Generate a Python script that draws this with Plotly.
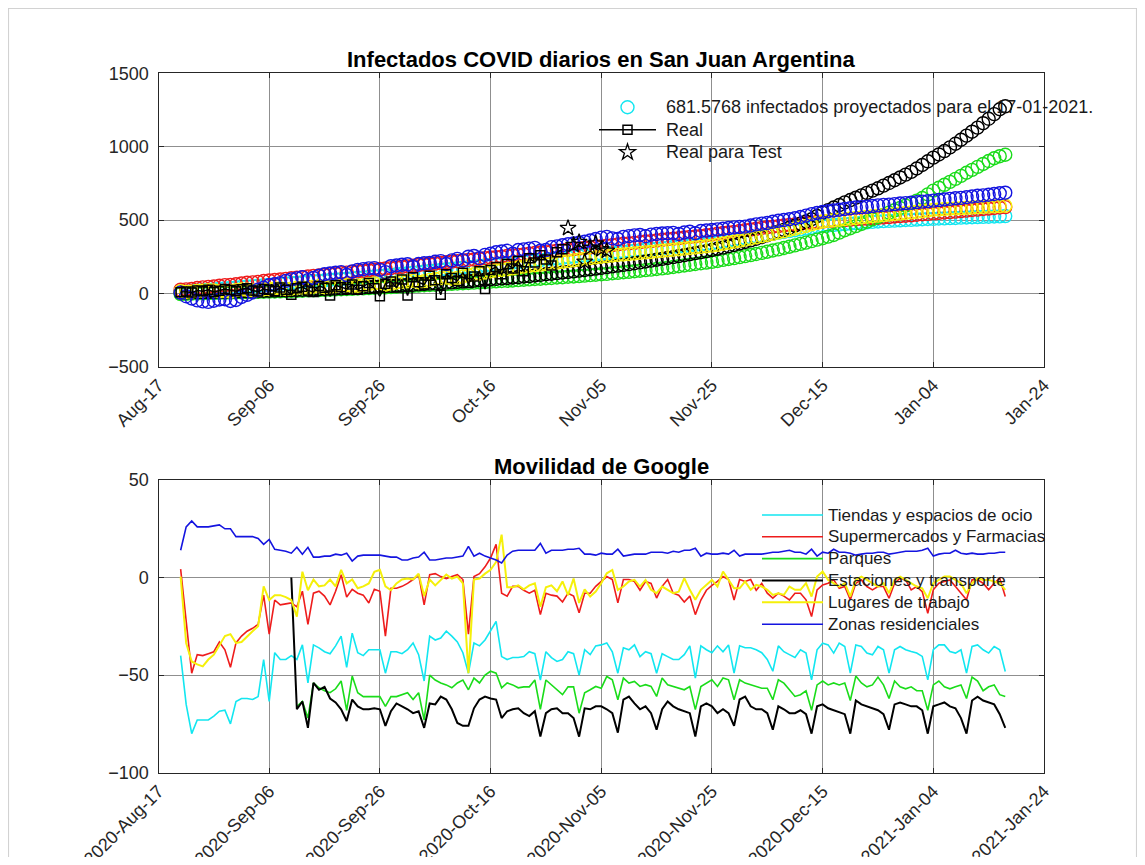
import pandas as pd
import plotly.graph_objects as go

# ---------------- DATA ----------------
tick_dates = ["2020-08-17", "2020-09-06", "2020-09-26", "2020-10-16", "2020-11-05",
              "2020-11-25", "2020-12-15", "2021-01-04", "2021-01-24"]
top_tick_labels = ["Aug-17", "Sep-06", "Sep-26", "Oct-16", "Nov-05",
                   "Nov-25", "Dec-15", "Jan-04", "Jan-24"]
bottom_tick_labels = ["2020-Aug-17", "2020-Sep-06", "2020-Sep-26", "2020-Oct-16", "2020-Nov-05",
                      "2020-Nov-25", "2020-Dec-15", "2021-Jan-04", "2021-Jan-24"]

# projected infections (model fits), daily from 2020-08-21 to 2021-01-17
fit_cyan = [10, 13, 16, 20, 23, 25, 28, 32, 35, 37,
            40, 44, 47, 49, 52, 56, 59, 61, 64, 68,
            71, 73, 76, 80, 83, 85, 88, 92, 95, 97,
            100, 104, 107, 109, 112, 116, 119, 122, 126, 130,
            134, 137, 141, 145, 149, 152, 156, 160, 164, 167,
            171, 175, 179, 182, 186, 190, 194, 197, 201, 205,
            209, 212, 216, 220, 224, 227, 231, 235, 239, 242,
            246, 250, 254, 258, 262, 266, 270, 273, 277, 280,
            284, 288, 291, 294, 298, 302, 305, 308, 312, 316,
            319, 322, 326, 330, 333, 336, 340, 346, 352, 358,
            364, 370, 376, 382, 388, 394, 400, 406, 412, 418,
            424, 430, 436, 442, 448, 454, 460, 463, 466, 469,
            472, 475, 478, 481, 484, 487, 490, 492, 494, 496,
            498, 500, 501, 503, 505, 507, 508, 510, 511, 513,
            514, 516, 517, 519, 520, 521, 522, 524, 525, 527]
fit_red = [25, 27, 30, 36, 41, 44, 47, 52, 56, 58,
           62, 67, 72, 75, 78, 84, 88, 91, 94, 99,
           103, 106, 110, 115, 119, 122, 125, 130, 135, 138,
           141, 146, 150, 153, 156, 161, 166, 169, 172, 177,
           181, 184, 188, 193, 197, 200, 203, 208, 213, 216,
           219, 224, 228, 231, 235, 240, 244, 247, 250, 255,
           259, 262, 266, 271, 275, 278, 281, 286, 291, 294,
           297, 302, 306, 309, 313, 318, 322, 325, 329, 334,
           338, 341, 344, 349, 353, 356, 360, 365, 369, 372,
           376, 381, 385, 388, 391, 396, 400, 406, 411, 415,
           419, 425, 431, 435, 440, 446, 451, 454, 458, 463,
           467, 470, 474, 478, 482, 486, 489, 492, 495, 497,
           499, 502, 505, 507, 509, 512, 515, 517, 520, 524,
           527, 529, 532, 536, 539, 542, 545, 548, 551, 554,
           557, 561, 564, 568, 571, 575, 578, 582, 585, 588]
fit_green = [-5, -3, -2, -1, 0, 1, 2, 3, 4, 5,
             6, 7, 8, 9, 10, 11, 12, 13, 14, 15,
             16, 17, 18, 20, 21, 22, 24, 25, 27, 28,
             30, 31, 33, 34, 36, 38, 40, 41, 43, 45,
             47, 49, 51, 53, 55, 57, 59, 61, 63, 65,
             67, 69, 71, 73, 75, 77, 80, 82, 84, 86,
             88, 90, 93, 95, 98, 100, 103, 105, 108, 110,
             113, 115, 118, 121, 124, 127, 130, 133, 137, 140,
             144, 147, 151, 154, 158, 162, 166, 170, 175, 180,
             185, 190, 195, 200, 205, 210, 215, 221, 228, 234,
             240, 247, 254, 261, 268, 276, 284, 292, 300, 309,
             318, 327, 337, 346, 356, 366, 376, 387, 398, 414,
             430, 444, 458, 473, 488, 504, 520, 535, 550, 566,
             582, 598, 615, 632, 650, 675, 700, 720, 740, 760,
             780, 801, 822, 842, 862, 882, 902, 921, 935, 945]
fit_black = [5, 5, 6, 7, 8, 8, 9, 9, 10, 11,
             12, 13, 14, 15, 16, 17, 18, 19, 20, 21,
             22, 23, 24, 25, 27, 28, 30, 31, 33, 34,
             36, 38, 40, 41, 43, 45, 47, 49, 51, 53,
             55, 57, 59, 61, 64, 66, 68, 70, 73, 75,
             78, 81, 84, 87, 90, 93, 96, 99, 102, 105,
             108, 111, 115, 118, 122, 126, 130, 134, 138, 142,
             146, 150, 155, 159, 164, 169, 174, 179, 184, 189,
             194, 199, 205, 211, 217, 223, 229, 235, 241, 247,
             254, 260, 267, 274, 281, 288, 296, 304, 312, 321,
             330, 340, 350, 361, 372, 384, 396, 408, 420, 433,
             447, 461, 475, 490, 505, 527, 550, 567, 585, 602,
             620, 636, 652, 668, 685, 700, 716, 734, 752, 771,
             790, 809, 828, 851, 875, 900, 925, 947, 970, 995,
             1020, 1047, 1075, 1102, 1130, 1160, 1190, 1222, 1255, 1275]
fit_yellow = [15, 10, 12, 16, 18, 22, 20, 14, 16, 12,
              22, 26, 25, 20, 22, 28, 30, 34, 35, 30,
              32, 38, 40, 36, 45, 48, 42, 46, 50, 56,
              55, 50, 52, 58, 62, 68, 70, 60, 66, 74,
              78, 82, 85, 76, 82, 92, 98, 104, 108, 100,
              105, 115, 122, 130, 135, 142, 150, 156, 160, 165,
              170, 176, 182, 188, 192, 196, 200, 205, 210, 215,
              220, 225, 230, 235, 240, 245, 250, 254, 258, 262,
              265, 268, 272, 276, 279, 282, 286, 290, 293, 297,
              301, 305, 309, 313, 317, 321, 325, 331, 338, 345,
              352, 359, 366, 374, 382, 390, 398, 406, 415, 423,
              432, 441, 450, 460, 470, 480, 490, 494, 498, 502,
              506, 510, 514, 518, 522, 526, 530, 533, 537, 540,
              544, 548, 552, 556, 560, 565, 570, 572, 575, 577,
              579, 581, 583, 585, 587, 589, 591, 593, 595, 597]
fit_blue = [5, -20, -35, -48, -55, -58, -50, -42, -40, -52,
            -45, -25, -10, 8, 25, 38, 55, 62, 70, 85,
            95, 102, 110, 90, 105, 120, 130, 135, 140, 145,
            125, 150, 160, 165, 170, 172, 160, 145, 185, 190,
            195, 198, 180, 200, 205, 208, 215, 220, 200, 225,
            235, 225, 250, 255, 240, 262, 270, 280, 285, 290,
            270, 295, 300, 305, 310, 290, 295, 315, 320, 328,
            335, 340, 345, 352, 360, 370, 380, 385, 375, 370,
            385, 390, 395, 398, 390, 400, 405, 408, 410, 412,
            405, 415, 420, 410, 425, 428, 432, 436, 440, 445,
            450, 452, 455, 462, 470, 475, 480, 488, 495, 500,
            505, 512, 520, 530, 540, 548, 555, 560, 565, 570,
            575, 580, 585, 588, 590, 595, 600, 603, 605, 608,
            612, 615, 618, 622, 625, 628, 632, 636, 640, 644,
            648, 651, 655, 660, 665, 668, 672, 677, 682, 686]

# real daily cases (from 2020-08-21) and test cases (from 2020-10-30)
real_cases = [8, 12, 5, 20, 15, 25, 10, 18, 30, 22, 14, 28, 35, 20, 12, 30, 25,
              15, 40, 25, -10, 35, 45, 20, 10, 50, 38, -15, 55, 42, 30, 60, 25, 48, 70, 35, -20,
              65, 80, 40, 95, -15, 110, 75, 60, 120, 90, -10, 130, 105, 85, 140, 70, 115, 150, 30, 160,
              180, 130, 200, 170, 220, 150, 240, 210, 260, 230, 190, 280, 300]
test_cases = [445, 330, 350, 215, 310, 340, 300, 290]

# Google mobility (daily from 2020-08-21)
mob_retail = [-40, -65, -80, -73, -73, -73, -71, -68.5, -68, -75, -63.5, -62, -62, -62.5, -61, -42, -63.5, -38.5,
              -42, -42, -40, -42, -34.5, -54, -34.5, -36, -38, -39, -35, -30, -46, -28.5, -38.5, -40, -37, -37,
              -37, -49, -38, -38, -39, -37, -33.5, -39.5, -53, -30, -32, -31, -27.5, -30, -33, -38.5, -49, -33.5,
              -35, -32, -27.5, -22.5, -40.5, -42, -41, -41, -40.5, -38, -39, -52.5, -38, -41, -43, -42, -38, -39, -50, -37,
              -39.5, -35, -34.5, -33.5, -38, -49, -36, -37, -34.5, -40.5, -38, -39, -49, -39, -40.5, -42, -42, -39.5,
              -35, -51.5, -35, -37, -38.5, -35, -38, -34.5, -49, -35, -36, -36, -37, -38.5, -42, -48, -35, -38, -39.5, -41,
              -37, -38.7, -52.4, -37, -33.6, -34.5, -38.7, -33.6, -35.3, -49, -34.5, -35.3, -38.7, -39.6, -35.3, -37, -49,
              -37, -35.3, -37, -37.9, -38.7, -40.4, -52.4, -37, -34.5, -34.5, -37.9, -38.7, -37, -49, -35.3, -34.5, -37,
              -38.7, -35.3, -37, -48.1]
mob_grocery = [4.3, -22, -49, -39.5, -40, -39, -38, -33, -37, -46, -33.5, -30, -27.5, -26, -24, -9, -29, -11.5,
               -14, -13.5, -13, -15, -7, -24, -8, -7, -9.5, -14, -7, 1.5, -10, -6, -8, -9, -13, -6,
               -7, -30, -5.5, -5.5, -4.5, -3, -1, 1.5, -14, 1.5, 2, 0.5, -0.5, 0.5, 1.5, -1, -29, 0.5,
               2, 5.5, 10, 17, -8, -9.5, -4.5, -4.5, -6.5, -8, -6.5, -19, -8, -9, -9.5, -12.5, -8, -9.5, -18, -8,
               -8, -4.5, -2, 0.5, -1, -13, -1, -1, -2, -6.5, -2, -3, -10.5, -4.5, -1, -8, -9, -12.5,
               -9.5, -19, -11.5, -6.5, -4, -2, 0.5, -1, -11.5, -1, -2, -1, -6.5, -3, -8, -10.5, -8, -9.5, -11.5, -8,
               -8, -11.4, -20, -6.3, -3.8, -2.9, -1.2, -5.5, -4.6, -11.4, -2.9, -1.2, -4.6, -6.3, -4.6, -4.6, -10.6,
               -2.9, -0.3, -1.2, -6.3, -4.6, -7.2, -18.3, -6.3, -2.9, -2, -1.2, -4.6, -8, -11.4, -1.2, -1.2, -2.9,
               -6.3, -2.9, -0.3, -9.7]
mob_workplaces = [0.5, -33.5, -43, -44.5, -45.5, -42, -39.5, -35, -30, -29, -33.5, -33, -30, -27.5, -25, -4.5, -11.5, -9,
                  -9, -10, -11.5, -20, 3, -6.5, -1, -4.5, -4, -1, -4.5, 4, -3, -1, -5.5, -4.5, -3, 3,
                  4, -4.5, -6.5, -3, -1, -0.5, -1, 2, -9.5, -1, -4, -1, 1.5, -0.5, 0.5, -3, -49, -1,
                  -0.5, 2, 4, 8, 22, -5, -5, -4, -6, -4, -3, -15, -5, -4, -7, -2, -9, -0.5, -13, -6,
                  -9.7, -7.2, -2.9, 2.2, 3.9, -6.3, -4.6, -2, -1.2, -4.6, -1.2, -6.3, -8, -4.6, -6.3, -8, -7.2, -0.3,
                  -6.3, -11.4, -6.3, -3.8, -1.2, -4.6, 3.1, -1.2, -5.5, -5.5, -2, -6.3, -3.8, -4.6, -6.3, -8.9, -8, -8.9, -4.6, -6.3,
                  -6.3, -2.9, -9.7, 0.5, 3.1, -1.2, -2.9, -4.6, -2.9, -9.7, -1.2, 0.5, -1.2, -2.9, -4.6, -2.9, -8,
                  -1.2, 0.5, -1.2, -2.9, -4.6, -5.5, -10.6, -2.9, -1.2, 0.5, 0.5, -1.2, -2.9, -8, -2.9, -0.3, -1.2,
                  -1.2, -2, -2.9, -6.3]
mob_residential = [14, 26, 29, 26, 26, 26, 26.5, 27, 25, 25, 21, 21, 21, 21, 20, 17, 19.5, 14.5,
                   14, 13.5, 12.5, 15.5, 12, 15.5, 10.5, 10.5, 11, 11, 12, 11.5, 12.5, 8.5, 11, 11.5, 11.5, 11.5,
                   11.5, 11, 10.5, 10.5, 9, 9, 10, 10.5, 13, 9, 9, 9.5, 10, 10, 10.5, 11, 16, 11,
                   12.5, 11, 10, 9, 7.5, 11.5, 13.5, 14, 14, 14, 14, 17.5, 12.5, 14, 14, 14, 14.5, 14.5, 15, 12,
                   12, 11.5, 12.5, 12, 12, 14.5, 11, 11.5, 12, 12, 12, 13, 13, 13, 12.5, 13.5, 13, 14,
                   14, 15, 11, 12.5, 12, 12, 12.5, 12, 14, 11, 12, 12, 12, 12, 12.5, 13, 13, 13.5, 14, 13,
                   13, 12, 14.5, 11, 13, 12.5, 14.5, 13, 13, 12.5, 11.5, 12, 12.5, 12.5, 13, 13, 12,
                   12.5, 13, 13.5, 13.5, 13.5, 14, 15, 11, 12, 12.5, 12.5, 14, 12.5, 12, 12.5, 12,
                   12, 12.5, 12.5, 13, 13]
# parks from 2020-09-11, transit from 2020-09-10
mob_parks = [-66, -63.5, -72, -54, -56.5, -58, -59, -57, -53, -68, -50.5, -59, -61, -61, -61,
             -61, -66, -61, -61, -60, -59, -62.5, -59, -73, -50, -52.5, -54, -55, -56.5, -54, -52.5, -57.5, -51.5,
             -54, -50, -48, -49, -56.5, -54, -55, -56.5, -56, -56, -52.5, -67.5, -52.5, -55, -57.5, -60, -56, -56, -69.5, -59,
             -57.5, -55.8, -56.7, -50.7, -52.4, -62.6, -51.5, -54.1, -53.2, -55.8, -54.9, -55.8, -60.9, -51.5, -54.9,
             -55.8, -56.7, -57.5, -55.8, -67.7, -55.8, -54.1, -52.4, -55.8, -51.5, -52.4, -62.6, -52.4, -54.1, -54.9,
             -55.8, -56.7, -56.7, -62.6, -52.4, -54.1, -57.5, -60.9,
             -60, -58, -68, -55, -53, -55, -54, -55, -54, -63, -50.5, -54, -56, -55, -51, -55, -62, -53, -56, -57,
             -56, -58, -58, -68, -55, -53, -56, -57, -56, -55, -62, -51, -53, -58, -56, -55, -60, -61]
mob_transit = [0, -67.5, -63.5, -77, -54, -57.5, -56, -62, -64, -67.5, -73.5, -62.5, -66, -67.5, -67.5, -67,
               -67.5, -76, -68.5, -64.5, -66, -67.5, -69.5, -68.5, -77, -64.5, -65, -61, -62.5, -67.5, -74.5, -76,
               -76, -67, -62.5, -61, -62, -62.5, -72, -68.5, -67.5, -67, -69.5, -71, -68.5, -81.5, -69.5, -67.5,
               -67, -69.5, -69.5, -72, -81.5, -67,
               -67.5, -66, -66, -67.5, -69.5, -79.5, -62.5, -61, -64.5, -67.5, -66, -69.5, -78, -67.5, -63.5, -66,
               -67.5, -68.5, -69.5, -81.5, -66, -64.5, -66, -69.5, -67.5, -69.5, -76, -62.5, -61, -66, -67.5, -67.5,
               -69.5, -78, -66, -67.5, -69.5, -69.5,
               -68, -70, -80, -66, -65, -67, -68, -69, -70, -80, -63, -65, -66, -67, -68, -70, -78, -65, -64, -65,
               -66, -66, -68, -80, -66, -65, -64, -66, -67, -72, -80, -63, -61, -63, -64, -65, -70, -77]

fit_dates = pd.date_range("2020-08-21", periods=len(fit_blue), freq="D")
real_dates = pd.date_range("2020-08-21", periods=len(real_cases), freq="D")
test_dates = pd.date_range("2020-10-30", periods=len(test_cases), freq="D")
mob_dates = pd.date_range("2020-08-21", periods=len(mob_retail), freq="D")
parks_dates = pd.date_range("2020-09-11", periods=len(mob_parks), freq="D")
transit_dates = pd.date_range("2020-09-10", periods=len(mob_transit), freq="D")

# ---------------- STYLE ----------------
FONT = "Liberation Sans, Arial, Helvetica, sans-serif"
TXT = "#262626"
GRID = "#8f8f8f"
C_CYAN, C_RED, C_GREEN, C_BLACK, C_YELLOW, C_BLUE = "#12E6F0", "#EE1C1C", "#1ADC1A", "#000000", "#F5F00A", "#1414E0"

W, H = 1129, 849
def px_x(x):
    return (x - 8) / W
def px_y(y):
    return 1 - (y - 8) / H

def leg1(t):
    return '<span style="font-size:18px">&nbsp;' + t + '</span>'
def leg2(t):
    return '<span style="font-size:17px">' + t + '</span>'

fig = go.Figure()

fits = [("fit_cyan", fit_cyan, C_CYAN), ("fit_red", fit_red, C_RED), ("fit_green", fit_green, C_GREEN),
        ("fit_black", fit_black, C_BLACK), ("fit_yellow", fit_yellow, C_YELLOW), ("fit_blue", fit_blue, C_BLUE)]
for i, (nm, vals, col) in enumerate(fits):
    fig.add_trace(go.Scatter(
        x=fit_dates, y=vals, mode="markers",
        name=leg1("681.5768 infectados proyectados para el 17-01-2021.") if i == 0 else nm,
        showlegend=(i == 0), legend="legend",
        marker=dict(symbol="circle-open", size=13, color=col, line=dict(width=1.4, color=col)),
        xaxis="x", yaxis="y"))

fig.add_trace(go.Scatter(x=real_dates, y=real_cases, mode="lines+markers", name=leg1("Real"), legend="legend",
                         line=dict(color="black", width=1.5),
                         marker=dict(symbol="square-open", size=9, color="black", line=dict(width=1.5)),
                         xaxis="x", yaxis="y"))
fig.add_trace(go.Scatter(x=test_dates, y=test_cases, mode="markers", name=leg1("Real para Test"), legend="legend",
                         marker=dict(symbol="star-open", size=12, color="black", line=dict(width=1.3)),
                         xaxis="x", yaxis="y"))

mob = [("Tiendas y espacios de ocio", mob_dates, mob_retail, C_CYAN, 1.6),
       ("Supermercados y Farmacias", mob_dates, mob_grocery, C_RED, 1.6),
       ("Parques", parks_dates, mob_parks, C_GREEN, 1.6),
       ("Estaciones y transporte", transit_dates, mob_transit, C_BLACK, 2.0),
       ("Lugares de trabajo", mob_dates, mob_workplaces, C_YELLOW, 2.0),
       ("Zonas residenciales", mob_dates, mob_residential, C_BLUE, 1.6)]
for nm, d, v, col, lw in mob:
    fig.add_trace(go.Scatter(x=d, y=v, mode="lines", name=leg2(nm), legend="legend2",
                             line=dict(color=col, width=lw), xaxis="x2", yaxis="y2"))

xdom = [px_x(158.5), px_x(1044)]
axis_common = dict(showline=True, linecolor=TXT, linewidth=1.2, mirror="ticks", ticks="inside",
                   ticklen=5, tickcolor=TXT, showgrid=True, gridcolor=GRID, gridwidth=1,
                   zeroline=False, tickfont=dict(family=FONT, size=18, color=TXT))
fig.update_layout(
    width=W, height=H, margin=dict(l=0, r=0, t=0, b=0, autoexpand=False),
    paper_bgcolor="white", plot_bgcolor="white",
    font=dict(family=FONT, color=TXT),
    xaxis=dict(domain=xdom, anchor="y", type="date",
               range=[tick_dates[0], tick_dates[-1]], tickvals=tick_dates, ticktext=top_tick_labels,
               tickangle=-45, **axis_common),
    yaxis=dict(domain=[px_y(366.7), px_y(73.3)], anchor="x", range=[-500, 1500],
               tickvals=[-500, 0, 500, 1000, 1500], ticklabelstandoff=5, **axis_common),
    xaxis2=dict(domain=xdom, anchor="y2", type="date",
                range=[tick_dates[0], tick_dates[-1]], tickvals=tick_dates, ticktext=bottom_tick_labels,
                tickangle=-45, **axis_common),
    yaxis2=dict(domain=[px_y(772.7), px_y(480)], anchor="x2", range=[-100, 50],
                tickvals=[-100, -50, 0, 50], ticklabelstandoff=5, **axis_common),
    legend=dict(x=px_x(594), y=px_y(91), xanchor="left", yanchor="top", bgcolor="rgba(0,0,0,0)",
                borderwidth=0, itemwidth=57, font=dict(family=FONT, size=15, color="#1a1a1a"),
                tracegroupgap=0),
    legend2=dict(x=px_x(757), y=px_y(499), xanchor="left", yanchor="top", bgcolor="rgba(0,0,0,0)",
                 borderwidth=0, itemwidth=61, font=dict(family=FONT, size=14.5, color="#1a1a1a"),
                 tracegroupgap=0),
    annotations=[
        dict(text="<b>Infectados COVID diarios en San Juan Argentina</b>", x=px_x(601), y=px_y(60),
             xref="paper", yref="paper", xanchor="center", yanchor="middle", showarrow=False,
             font=dict(family=FONT, size=22, color="black")),
        dict(text="<b>Movilidad de Google</b>", x=px_x(601), y=px_y(467),
             xref="paper", yref="paper", xanchor="center", yanchor="middle", showarrow=False,
             font=dict(family=FONT, size=22, color="black")),
    ],
    shapes=[
        dict(type="line", xref="paper", yref="paper", x0=0.0005, x1=0.0005, y0=0, y1=1,
             line=dict(color="#cfcfcf", width=1)),
        dict(type="line", xref="paper", yref="paper", x0=0, x1=1, y0=0.9995, y1=0.9995,
             line=dict(color="#cfcfcf", width=1)),
        dict(type="line", xref="paper", yref="paper", x0=0.9995, x1=0.9995, y0=0, y1=1,
             line=dict(color="#cfcfcf", width=1)),
    ],
)

fig.write_html("out.html")
